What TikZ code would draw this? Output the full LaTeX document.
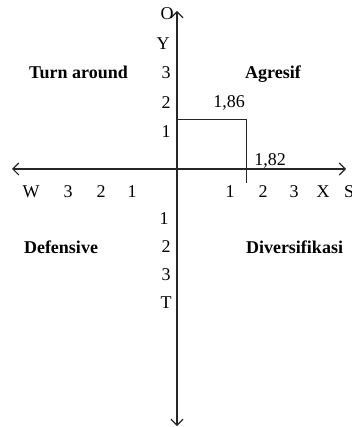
\documentclass[tikz,border=0pt]{standalone}
\usepackage{fontspec}
\setmainfont{Liberation Serif}
\usetikzlibrary{arrows.meta}
\begin{document}
\begin{tikzpicture}[x=1pt,y=-1pt,
  lbl/.style={font=\fontsize{18}{21}\selectfont, inner sep=0pt, anchor=base},
  quad/.style={font=\fontsize{18}{21}\selectfont\bfseries, inner sep=0pt, anchor=base},
  axis/.style={line width=1.4pt, draw=black!85},
  barb/.tip={Straight Barb[length=6pt,width=12pt,line width=1.2pt]},
  thin/.style={line width=1pt, draw=black!85}]
\useasboundingbox (0,0) rectangle (352,427);
% axes
\coordinate (C) at (177,169);
\coordinate (top) at (177,11);
\coordinate (bot) at (177,426);
\coordinate (lft) at (12,169);
\coordinate (rgt) at (346,169);
\draw[axis, barb-barb] (lft) -- (rgt);
\draw[axis, barb-barb] (bot) -- (top);
% point rectangle
\coordinate (ytick) at (177,120);
\coordinate (corner) at (246,120);
\coordinate (xend) at (246,183);
\draw[thin] (ytick) -- (corner) -- (xend);
% vertical labels
\node[lbl] (O) at (167,20) {O};
\node[lbl] (Y) at (163,50) {Y};
\node[lbl] (y3) at (166,79) {3};
\node[lbl] (y2) at (166,109) {2};
\node[lbl] (y1) at (166,138) {1};
\node[lbl] (t1) at (164,224) {1};
\node[lbl] (t2) at (166,252) {2};
\node[lbl] (t3) at (166,280) {3};
\node[lbl] (T) at (166,308) {T};
% horizontal labels
\node[lbl] (W) at (31,198) {W};
\node[lbl] (w3) at (68,198) {3};
\node[lbl] (w2) at (101,198) {2};
\node[lbl] (w1) at (132,198) {1};
\node[lbl] (x1) at (230,198) {1};
\node[lbl] (x2) at (263,198) {2};
\node[lbl] (x3) at (294,198) {3};
\node[lbl] (X) at (323,198) {X};
\node[lbl, anchor=base west] (S) at (344,198) {S};
% values
\node[lbl] (v186) at (229,108) {1,86};
\node[lbl] (v182) at (270,166) {1,82};
% quadrants
\node[quad] (turn) at (78.5,79) {Turn around};
\node[quad] (agr) at (273,79) {Agresif};
\node[quad] (def) at (61,253) {Defensive};
\node[quad] (div) at (294.5,253) {Diversifikasi};
\end{tikzpicture}
\end{document}
